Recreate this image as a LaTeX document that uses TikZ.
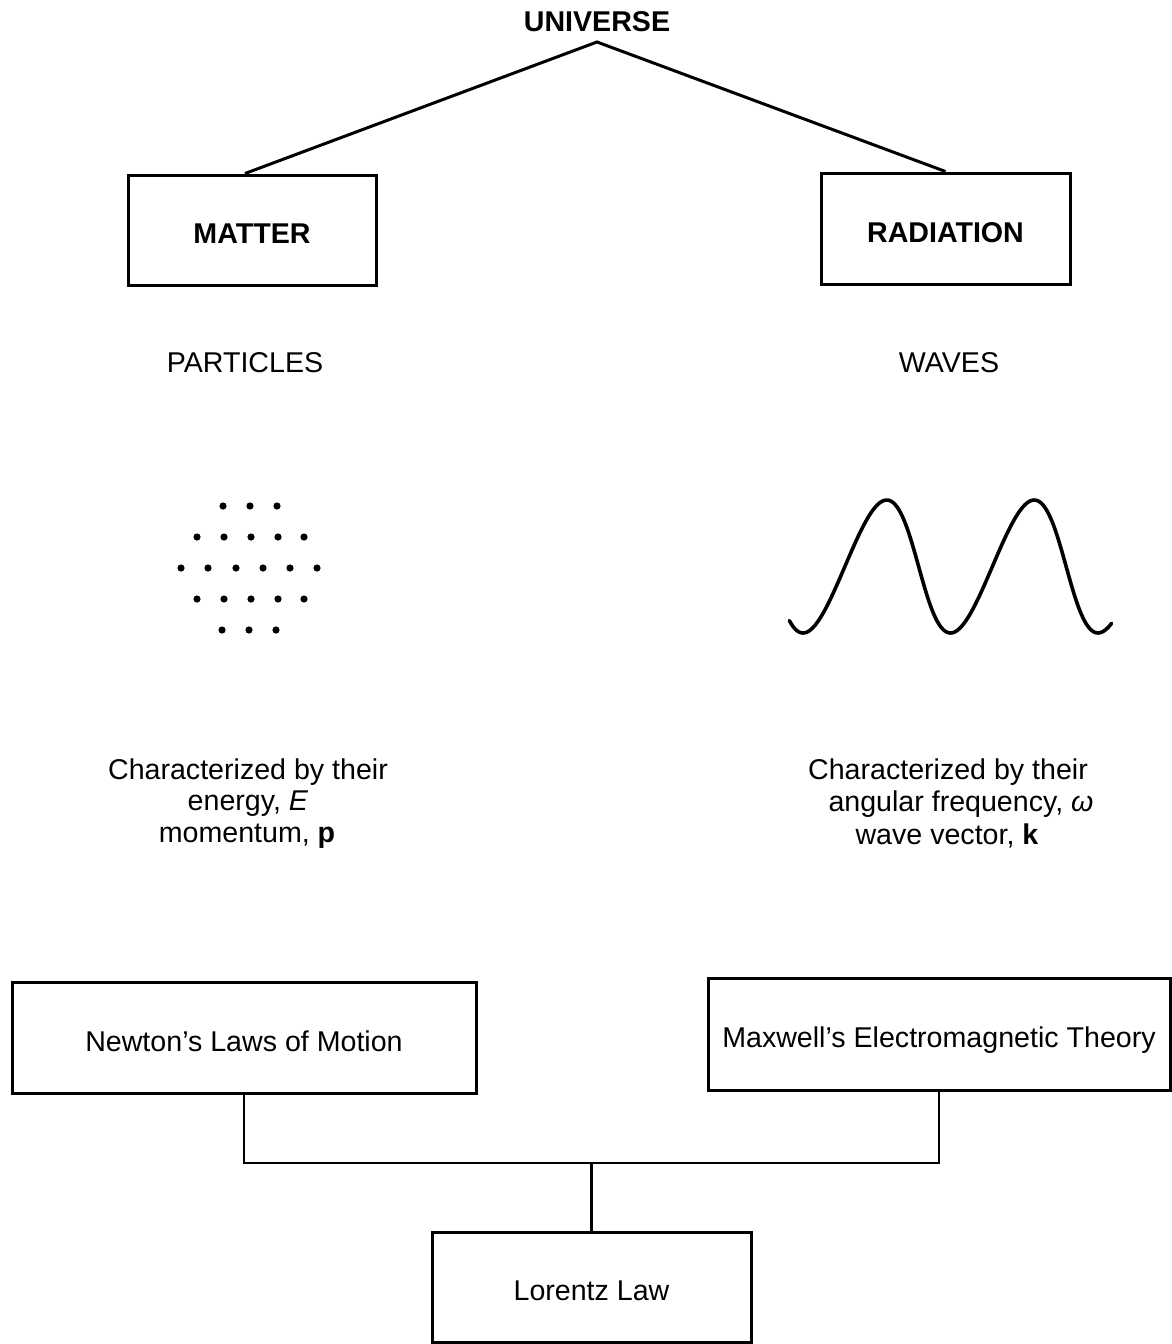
\documentclass[tikz,border=0pt]{standalone}
\usepackage{fontspec}
\setmainfont{Liberation Sans}
\begin{document}
\begin{tikzpicture}[x=0.5pt,y=-0.5pt,
  every node/.style={font=\fontsize{14.3}{17}\selectfont, inner sep=0pt},
  box/.style={draw, line width=1.5pt, align=center, text height=13.8pt, text depth=0pt},
  boldlbl/.style={font=\fontsize{14.3}{17}\selectfont\bfseries},
  link/.style={line width=1.5pt},
  bus/.style={line width=1.1pt},
  dotp/.style={fill=black}]
\useasboundingbox (0,0) rectangle (1172,1344);

% top
\node[boldlbl] (universe) at (597,22) {UNIVERSE};
\coordinate (apex) at (597,42);
\node[box, boldlbl, minimum width=124pt, minimum height=55pt] (matter) at (252,230) {MATTER};
\node[box, boldlbl, minimum width=124.5pt, minimum height=55.5pt] (radiation) at (945.5,228.5) {RADIATION};
\draw[link] ([xshift=-3.5pt]matter.north) -- (apex) -- (radiation.north);

\node (particles) at (245,363) {PARTICLES};
\node (waves) at (949,363) {WAVES};

% particles
\foreach \y/\xs in {506/{223,250,277}, 537/{197,224,251,278,304}, 568/{181,208,236,263,290,317}, 599/{197,224,251,278,304}, 630/{222,249,276}}{
  \foreach \x in \xs { \fill[dotp] (\x,\y) circle (1.8pt); }
}

% wave
\draw[line width=1.8pt, line cap=round, line join=round]
  plot[domain=-0.099:2.088, samples=160, smooth]
  ({803+147.5*\x+5*(1-cos(360*\x))}, {566.5+66.5*cos(360*\x)});

% characteristics
\node (pc1) at (248,772) {Characterized by their};
\node (pc2) at (248,804) {energy, \textit{E}};
\node (pc3) at (247,836) {momentum, \textbf{p}};
\node (wc1) at (948,772) {Characterized by their};
\node (wc2) at (961,804) {angular frequency, \textit{ω}};
\node (wc3) at (947,836) {wave vector, \textbf{k}};

% bottom
\node[box, minimum width=232pt, minimum height=55.5pt] (newton) at (244,1037.5) {Newton’s Laws of Motion};
\node[box, minimum width=231pt, minimum height=56pt] (maxwell) at (939,1034) {Maxwell’s Electromagnetic Theory};
\node[box, minimum width=159.5pt, minimum height=55pt] (lorentz) at (591.5,1287) {Lorentz Law};
\coordinate (busmid) at (591.5,1163);
\draw[bus] (newton.south) |- (busmid) -| (maxwell.south);
\draw[bus] (busmid) -- (lorentz.north);
\end{tikzpicture}
\end{document}
